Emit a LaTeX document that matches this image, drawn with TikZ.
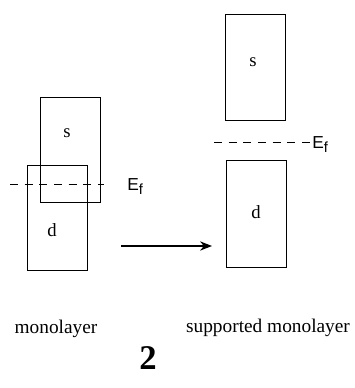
\documentclass[tikz,border=0pt]{standalone}
\usepackage{fontspec}
\setmainfont{Liberation Serif}
\newfontfamily\labsans{Liberation Sans}
\usetikzlibrary{arrows.meta}
\begin{document}
\begin{tikzpicture}[x=0.75pt,y=-0.75pt,>={Stealth[length=9pt,width=7pt]},
 band/.style={draw,line width=0.65pt,inner sep=0pt,minimum width=45pt},
 sym/.style={font=\fontsize{14}{16}\selectfont,inner sep=0pt},
 ef/.style={font=\labsans\fontsize{13}{15}\selectfont,inner sep=0pt,anchor=west},
 lab/.style={font=\fontsize{14.5}{17}\selectfont,inner sep=0pt},
 level/.style={dash pattern=on 6pt off 5pt,line width=0.65pt}]
\useasboundingbox (0,0) rectangle (354,388);
% monolayer
\node[band,minimum height=78.75pt] (s1) at (70,149.5) {};
\node[band,minimum height=78.75pt] (d1) at (57.5,217.5) {};
\node[sym] (s1t) at (67,133) {s};
\node[sym] (d1t) at (52,230) {d};
\coordinate (f1a) at (10,184);
\coordinate (f1b) at (104,184);
\node[ef] (ef1) at (127,187) {E\raisebox{-3pt}{\fontsize{11}{13}\selectfont f}};
\draw[level] (f1a) -- (f1b);
% supported monolayer
\node[band,minimum height=79.5pt] (s2) at (255,67) {};
\node[band,minimum height=80.25pt] (d2) at (256.5,213.5) {};
\node[sym] (s2t) at (253,62) {s};
\node[sym] (d2t) at (256,212) {d};
\coordinate (f2a) at (214,142);
\coordinate (f2b) at (310,142);
\node[ef] (ef2) at (312,145) {E\raisebox{-3pt}{\fontsize{11}{13}\selectfont f}};
\draw[level] (f2a) -- (f2b);
% arrow
\coordinate (ar1) at (121,246);
\coordinate (ar2) at (212,246);
\draw[->,line width=0.9pt] (ar1) -- (ar2);
% captions
\node[lab] (cap1) at (56,329) {monolayer};
\node[lab] (cap2) at (268,328) {supported monolayer};
\node[font=\bfseries\fontsize{26}{30}\selectfont,inner sep=0pt] (num) at (148,358) {2};
\end{tikzpicture}
\end{document}
